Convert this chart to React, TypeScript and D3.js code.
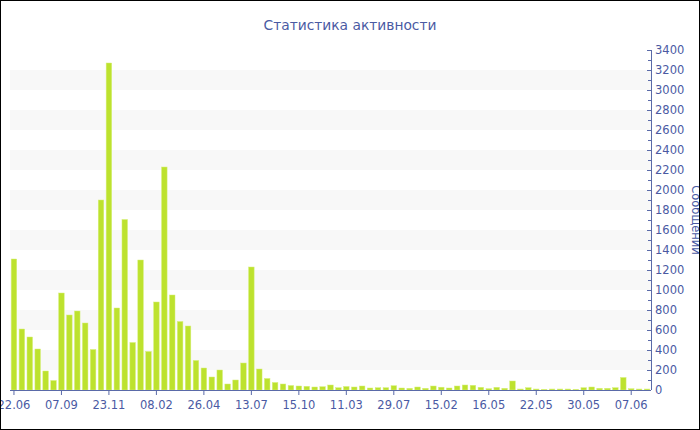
import * as d3 from "d3";
import React from "react";

// messages per period
const values: number[] = [
  1310, 610, 530, 410, 190, 95, 970, 750, 790, 670, 405, 1900, 3270, 820, 1705,
  475, 1300, 385, 880, 2230, 950, 685, 640, 295, 220, 130, 200, 60, 100, 270,
  1230, 210, 115, 75, 60, 45, 40, 37, 30, 33, 50, 23, 35, 30, 40, 20, 23, 23,
  43, 20, 17, 30, 17, 40, 28, 20, 40, 50, 47, 27, 13, 27, 17, 90, 10, 23, 10,
  7, 10, 10, 10, 7, 23, 30, 17, 17, 23, 125, 13, 10, 10,
];

const tickLabels: string[] = [
  "22.06", "07.09", "23.11", "08.02", "26.04", "13.07", "15.10",
  "11.03", "29.07", "15.02", "16.05", "22.05", "30.05", "07.06",
];
const tickEvery = 6;

const yTicks: number[] = d3.range(0, 3401, 200);
const yMinorTicks: number[] = d3.range(100, 3400, 200);

const TITLE = "Статистика активности";
const Y_TITLE = "Сообщений";

const W = 700;
const H = 430;
const plot = { left: 10, right: 651, top: 50, bottom: 390 };
const BAR = "#bde22e";
const TEXT = "#4a5aa3";
const AXIS = "#5a6aa8";
const FONT = "'DejaVu Sans', Verdana, sans-serif";

const App: React.FC = () => {
  const x = d3
    .scaleBand<number>()
    .domain(d3.range(values.length))
    .range([plot.left, plot.right])
    .paddingInner(0.3)
    .paddingOuter(0.15);

  const y = d3.scaleLinear().domain([0, 3400]).range([plot.bottom, plot.top]);

  const center = (i: number) => (x(i) as number) + x.bandwidth() / 2;

  // alternate bands every 200, starting at 200-400
  const bands = yTicks.slice(0, -1).filter((_, i) => i % 2 === 1);

  return (
    <div style={{ position: "fixed", left: 0, top: 0 }}>
      <svg width={W} height={H} style={{ display: "block", background: "#fff" }}>
        {bands.map((v) => (
          <rect
            key={v}
            x={plot.left}
            width={plot.right - plot.left}
            y={y(v + 200)}
            height={y(v) - y(v + 200)}
            fill="#f8f8f8"
          />
        ))}

        {values.map((v, i) => (
          <rect
            key={i}
            x={x(i)}
            width={x.bandwidth()}
            y={y(v)}
            height={plot.bottom - y(v)}
            fill={BAR}
            stroke="#d6ef7a"
            strokeWidth={0.5}
          />
        ))}

        {/* x axis */}
        <line
          x1={plot.left}
          x2={plot.right}
          y1={plot.bottom + 0.5}
          y2={plot.bottom + 0.5}
          stroke={AXIS}
        />
        {tickLabels.map((t, k) => {
          const cx = center(k * tickEvery);
          return (
            <g key={t + k}>
              <line x1={cx} x2={cx} y1={plot.bottom} y2={plot.bottom + 5} stroke={AXIS} />
              <text
                x={cx}
                y={plot.bottom + 19}
                textAnchor="middle"
                fontFamily={FONT}
                fontSize={11.5}
                fill={TEXT}
              >
                {t}
              </text>
            </g>
          );
        })}

        {/* y axis, right side */}
        <line
          x1={plot.right + 0.5}
          x2={plot.right + 0.5}
          y1={plot.top}
          y2={plot.bottom}
          stroke={AXIS}
        />
        {yMinorTicks.map((v) => (
          <line
            key={"m" + v}
            x1={plot.right - 3}
            x2={plot.right}
            y1={Math.round(y(v)) + 0.5}
            y2={Math.round(y(v)) + 0.5}
            stroke={AXIS}
          />
        ))}
        {yTicks.map((v) => (
          <g key={v}>
            <line
              x1={plot.right - 4}
              x2={plot.right}
              y1={Math.round(y(v)) + 0.5}
              y2={Math.round(y(v)) + 0.5}
              stroke={AXIS}
            />
            <text
              x={plot.right + 4}
              y={y(v) + 4}
              fontFamily={FONT}
              fontSize={11.5}
              fill={TEXT}
            >
              {v}
            </text>
          </g>
        ))}
        <text
          transform={`translate(${692},${(plot.top + plot.bottom) / 2}) rotate(90)`}
          textAnchor="middle"
          fontFamily={FONT}
          fontSize={11.5}
          fill={TEXT}
        >
          {Y_TITLE}
        </text>

        <text
          x={W / 2}
          y={30}
          textAnchor="middle"
          fontFamily={FONT}
          fontSize={13.8}
          fill={TEXT}
        >
          {TITLE}
        </text>

        <rect x={0.5} y={0.5} width={W - 1} height={H - 1} fill="none" stroke="#000" />
      </svg>
    </div>
  );
};

export default App;
